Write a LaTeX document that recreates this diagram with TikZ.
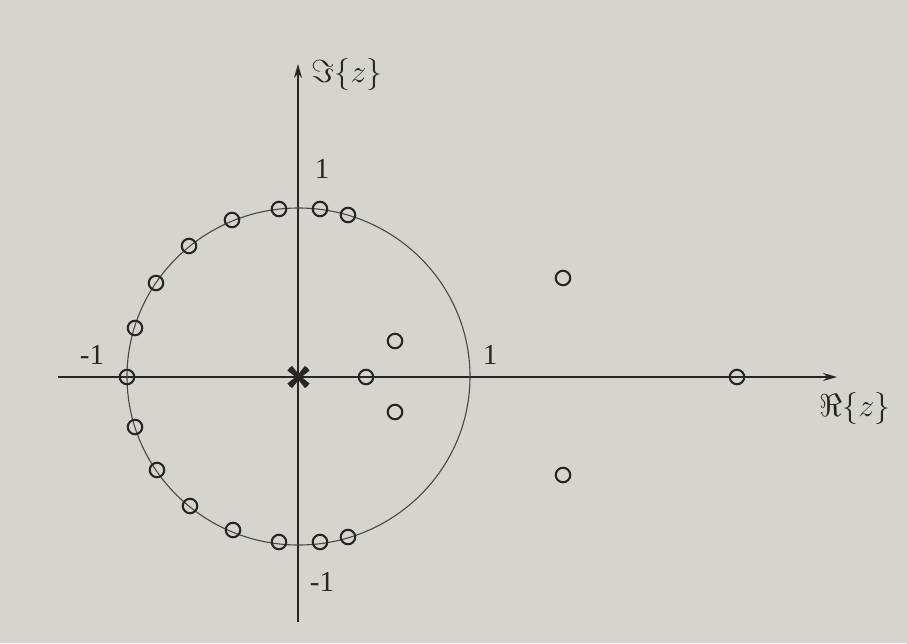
\documentclass[tikz,border=0pt]{standalone}
\usepackage{fontspec}
\setmainfont{Liberation Serif}
\usetikzlibrary{arrows.meta,shapes.misc}
\definecolor{paper}{RGB}{214,212,205}
\definecolor{ink}{RGB}{40,38,36}
\newcommand{\biglbl}[1]{\scalebox{1.28}{$#1$}}
\begin{document}
\begin{tikzpicture}[x=1pt,y=-1pt,
  axis/.style={draw=ink,line width=1.5pt,-{Stealth[length=14pt,width=8pt]}},
  unitc/.style={draw=ink!85,line width=1.1pt},
  zero/.style={circle,draw=ink,line width=2.1pt,minimum size=14.5pt,inner sep=0pt},
  pole/.style={cross out,draw=ink,line width=3.8pt,minimum width=16pt,minimum height=12pt,inner sep=0pt},
  lbl/.style={text=ink,inner sep=0pt,font=\fontsize{29}{32}\selectfont},
  albl/.style={text=ink,inner sep=0pt,font=\fontsize{24.88}{30}\selectfont}]
\fill[paper] (0,0) rectangle (907,643);
\useasboundingbox (0,0) rectangle (907,643);
\coordinate (O) at (298.5,376.5);
\coordinate (xs) at (58,377);
\coordinate (xe) at (837,377);
\coordinate (ys) at (298,622);
\coordinate (ye) at (298,64);
\draw[axis] (xs) -- (xe);
\draw[axis] (ys) -- (ye);
\draw[unitc] (O) ellipse [x radius=171.5pt, y radius=168.5pt];
% zeros on the unit circle
\node[zero] (z1) at (279,209) {};
\node[zero] (z2) at (320,209) {};
\node[zero] (z3) at (348,215) {};
\node[zero] (z4) at (232,220) {};
\node[zero] (z5) at (189,246) {};
\node[zero] (z6) at (156,283) {};
\node[zero] (z7) at (135,328) {};
\node[zero] (z8) at (127,377) {};
\node[zero] (z9) at (135,427) {};
\node[zero] (z10) at (157,470) {};
\node[zero] (z11) at (190,506) {};
\node[zero] (z12) at (233,530) {};
\node[zero] (z13) at (279,542) {};
\node[zero] (z14) at (320,542) {};
\node[zero] (z15) at (348,537) {};
% zeros off the unit circle
\node[zero] (z16) at (366,377) {};
\node[zero] (z17) at (395,341) {};
\node[zero] (z18) at (395,412) {};
\node[zero] (z19) at (563,278) {};
\node[zero] (z20) at (563,475) {};
\node[zero] (z21) at (737,377) {};
% pole at origin
\node[pole] (p) at (298.5,377) {};
\node[pole,minimum width=12pt,minimum height=16pt] (p2) at (298.5,377) {};
% labels
\node[lbl] (l1) at (322,169) {1};
\node[lbl] (lm1) at (92,355) {-1};
\node[lbl] (r1) at (490,355) {1};
\node[lbl] (bm1) at (322,582) {-1};
\node[albl] (im) at (347,75) {\biglbl{\Im\{z\}}};
\node[albl] (re) at (855,409) {\biglbl{\Re\{z\}}};
\end{tikzpicture}
\end{document}
